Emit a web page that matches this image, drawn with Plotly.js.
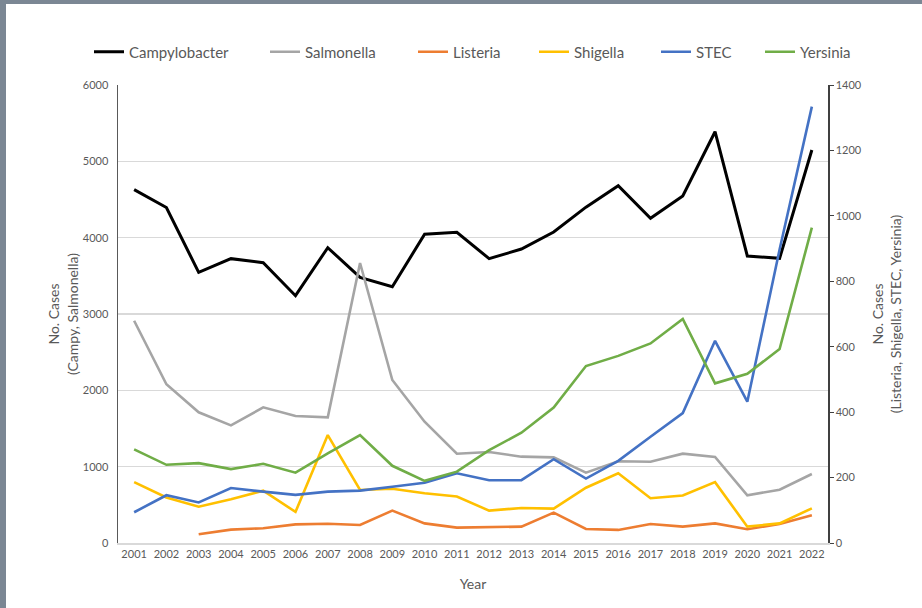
<!DOCTYPE html>
<html>
<head>
<meta charset="utf-8">
<script src="https://cdn.plot.ly/plotly-3.0.1.min.js"></script>
<style>
html,body{margin:0;padding:0;background:#ffffff;}
#frame{position:absolute;left:0;top:0;width:922px;height:608px;background:#7b8794;}
#chart{position:absolute;left:6px;top:4px;width:916px;height:604px;background:#fff;}
</style>
</head>
<body>
<div id="frame"></div>
<div id="chart"></div>
<script>
const years = ["2001","2002","2003","2004","2005","2006","2007","2008","2009","2010","2011","2012","2013","2014","2015","2016","2017","2018","2019","2020","2021","2022"];
const campylobacter = [4630,4395,3545,3725,3672,3240,3869,3480,3358,4044,4070,3725,3851,4074,4400,4681,4253,4546,5388,3760,3729,5148];
const salmonella = [2912,2079,1712,1541,1777,1664,1646,3668,2135,1589,1170,1192,1131,1122,921,1070,1065,1170,1127,625,698,904];
const listeria = [null,null,27,41,45,57,59,55,99,60,47,49,50,93,43,40,58,50,60,42,58,85];
const shigella = [186,139,111,134,160,95,330,162,166,152,142,99,107,105,169,213,137,145,186,50,60,106];
const stec = [94,146,124,168,157,147,157,160,172,184,213,192,192,256,197,251,325,397,618,432,897,1334];
const yersinia = [286,239,244,226,242,215,274,330,236,190,218,284,337,414,541,572,610,685,488,517,593,964];

const names = ["Campylobacter","Salmonella","Listeria","Shigella","STEC","Yersinia"];
const colors = ["#000000","#A5A5A5","#ED7D31","#FFC000","#4472C4","#70AD47"];
const series = [campylobacter, salmonella, listeria, shigella, stec, yersinia];
const axes = ["y","y","y2","y2","y2","y2"];
const legendIds = ["legend","legend2","legend3","legend4","legend5","legend6"];
// legend text start positions (page px)
const legendTextX = [129,305,453,574,696,800];

const traces = series.map((s,i)=>({
  type:"scatter", mode:"lines", x:years, y:s, name:names[i],
  yaxis:axes[i], legend:legendIds[i], line:{color:colors[i], width: i===0?3:2.6}, connectgaps:false
}));

const gridColor = "#d9d9d9";
const fam = "Lato, 'Open Sans', sans-serif";
const tickFont = {family:fam, size:11, color:"#595959"};
const layout = {
  width:916, height:604,
  margin:{l:112, r:94, t:81, b:65},
  paper_bgcolor:"#ffffff", plot_bgcolor:"#ffffff",
  font:{family:fam, color:"#595959"},
  showlegend:true,
  xaxis:{type:"category", range:[-0.5,21.5], showgrid:false, zeroline:false,
         showline:true, linecolor:gridColor, linewidth:1.5, ticks:"", tickfont:tickFont,
         title:{text:"Year", font:{size:14, color:"#595959"}, standoff:20}},
  yaxis:{range:[0,6000], dtick:1000, showgrid:true, gridcolor:gridColor, gridwidth:1.3,
         zeroline:false, showline:true, linecolor:"#595959", linewidth:1.5, ticks:"",
         tickfont:tickFont, ticklabelstandoff:6,
         title:{text:"No. Cases<br>(Campy, Salmonella)", font:{size:14, color:"#595959"}, standoff:1}},
  yaxis2:{range:[0,1400], dtick:200, overlaying:"y", side:"right", showgrid:false, zeroline:false,
          showline:true, linecolor:"#404040", linewidth:1.5, ticks:"outside", ticklen:4,
          tickcolor:"#404040", tickfont:tickFont,
          title:{text:"No. Cases<br>(Listeria, Shigella, STEC, Yersinia)", font:{size:14, color:"#595959"}, standoff:12}}
};
legendIds.forEach((id,i)=>{
  layout[id] = {orientation:"h", x:(legendTextX[i]-40-118)/710, xanchor:"left",
                y:1+33/458, yanchor:"middle", bgcolor:"rgba(0,0,0,0)",
                font:{family:fam, size:15, color:"#595959"}};
});
Plotly.newPlot("chart", traces, layout, {displayModeBar:false, staticPlot:true});
</script>
</body>
</html>
